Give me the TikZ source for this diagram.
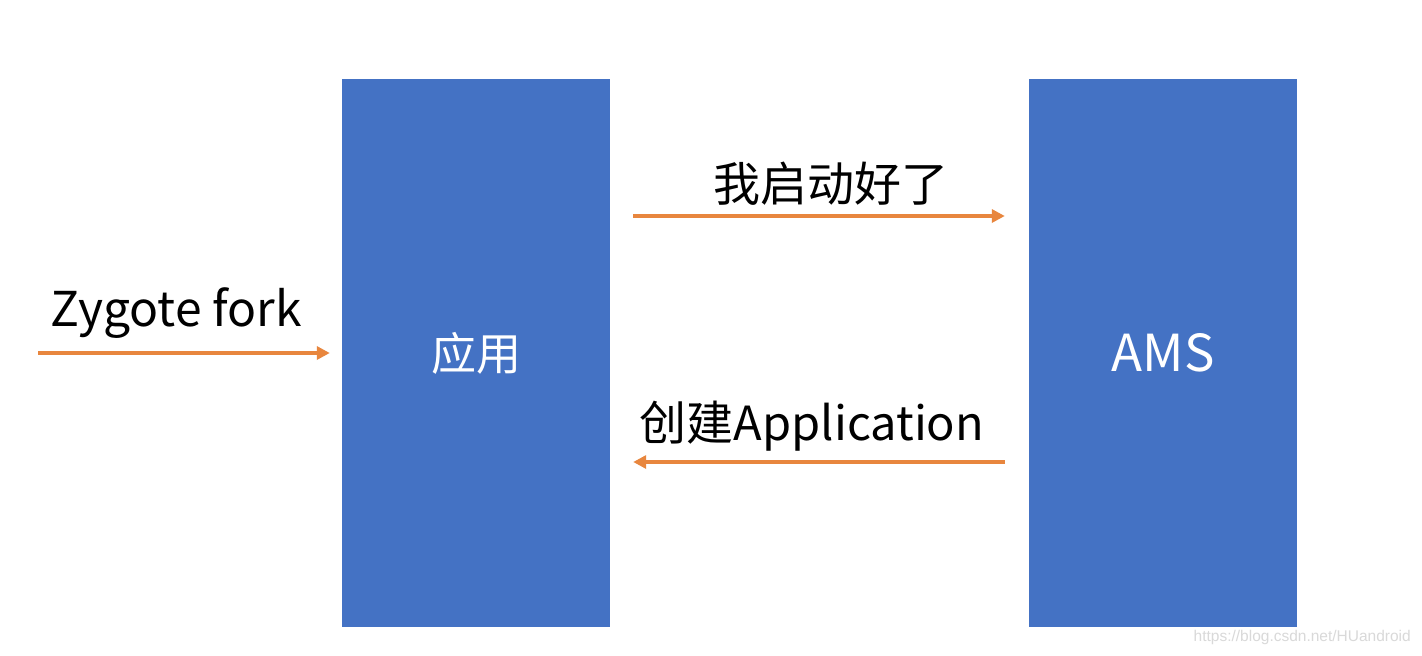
\documentclass[tikz,border=0pt]{standalone}
\usepackage{fontspec}
\setmainfont{Noto Sans CJK SC}
\newfontfamily\wmfont{Liberation Sans}
\usetikzlibrary{arrows.meta}
\definecolor{boxblue}{HTML}{4472C4}
\definecolor{arrorange}{HTML}{E8863E}
\definecolor{wmgray}{HTML}{D9D9D9}
\tikzset{
  block/.style={fill=boxblue, draw=none, minimum width=268pt, minimum height=548pt, inner sep=0pt},
  flow/.style={draw=arrorange, line width=3.2pt, -{Triangle[length=13pt,width=13pt]}},
  lbl/.style={font=\fontsize{47pt}{50pt}\selectfont, text=black, inner sep=0pt},
  inlbl/.style={font=\fontsize{45pt}{50pt}\selectfont, text=white, inner sep=0pt}
}
\begin{document}
\begin{tikzpicture}[x=1pt,y=-1pt]
\useasboundingbox (0,0) rectangle (1422,656);
\fill[white] (0,0) rectangle (1422,656);
\node[block] (app) at (476,353) {};
\node[block] (ams) at (1163,353) {};
\node[inlbl] (applbl) at (app.center) {应用};
\node[inlbl, font=\fontsize{51pt}{54pt}\selectfont] (amslbl) at (ams.center) {AMS};
\coordinate (zstart) at (38,353);
\draw[flow] (zstart) -- ([xshift=-12pt]app.west);
\node[lbl, font=\fontsize{48pt}{50pt}\selectfont] (zlbl) at (176,313) {Zygote fork};
\draw[flow] ([xshift=23pt,yshift=137pt]app.east) -- ([xshift=-24pt,yshift=137pt]ams.west);
\node[lbl] (toplbl) at (831,184) {我启动好了};
\draw[flow] ([xshift=-24pt,yshift=-109pt]ams.west) -- ([xshift=23pt,yshift=-109pt]app.east);
\node[lbl] (botlbl) at (812,426) {创建Application};
\node[font=\wmfont\fontsize{15.5pt}{18pt}\selectfont, text=wmgray, inner sep=0pt, anchor=east] (wm) at (1411,637) {https://blog.csdn.net/HUandroid};
\end{tikzpicture}
\end{document}
